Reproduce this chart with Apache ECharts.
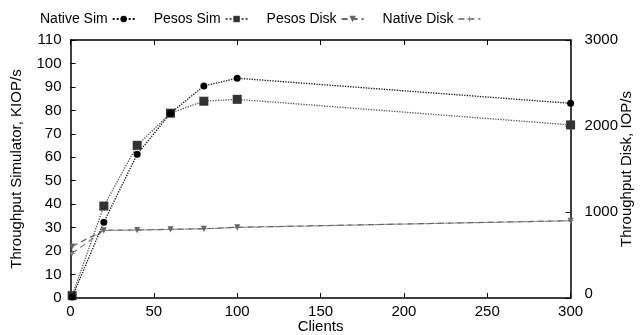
<!DOCTYPE html>
<html>
<head>
<meta charset="utf-8">
<script src="https://cdn.jsdelivr.net/npm/echarts@6/dist/echarts.min.js"></script>
<style>html,body{margin:0;padding:0;background:#fff}#c{width:642px;height:335px}</style>
</head>
<body>
<div id="c"></div>
<script>
const clients = [1, 20, 40, 60, 80, 100, 300];
const nativeSim = [0.4, 32.3, 61.3, 78.8, 90.4, 93.7, 83.0];
const pesosSim = [1.0, 39.2, 65.1, 78.8, 83.9, 84.7, 73.8];
const pesosDisk = [600, 787, 791, 799, 806, 822, 899];
const nativeDisk = [520, 785, 790, 798, 805, 821, 898];
const leftTicks = {min: 0, max: 110, interval: 10};
const rightTicks = {min: 0, max: 3000, interval: 1000};
const xTicks = {min: 0, max: 300, interval: 50};

const pair = (ys) => clients.map((x, i) => [x, ys[i]]);
const font = 'Liberation Sans, Arial, sans-serif';
const txt = {fontFamily: font, fontSize: 15, color: '#000'};
const line = {show: true, onZero: false, lineStyle: {color: '#000', width: 1.5}};
const tick = {inside: true, length: 5, lineStyle: {color: '#000'}};

const chart = echarts.init(document.getElementById('c'));
chart.setOption({
  animation: false,
  textStyle: {fontFamily: font},
  legend: {
    top: 7, left: 35, align: 'right', itemGap: 18, itemWidth: 22, itemHeight: 8,
    textStyle: {fontFamily: font, fontSize: 14, color: '#000'},
    data: ['Native Sim', 'Pesos Sim', 'Pesos Disk', 'Native Disk']
  },
  grid: {left: 70.5, right: 71.4, top: 40, bottom: 37, outerBoundsMode: 'none', containLabel: false},
  xAxis: [{
    type: 'value', min: xTicks.min, max: xTicks.max, interval: xTicks.interval,
    name: 'Clients', nameLocation: 'middle', nameGap: 21, nameMoveOverlap: false, nameTextStyle: txt,
    axisLine: line, axisTick: tick,
    axisLabel: Object.assign({margin: 6}, txt),
    splitLine: {show: false}
  }, {
    type: 'value', position: 'top', min: xTicks.min, max: xTicks.max, interval: xTicks.interval,
    axisLine: line, axisTick: tick,
    axisLabel: {show: false}, splitLine: {show: false}
  }],
  yAxis: [{
    type: 'value', position: 'left', min: leftTicks.min, max: leftTicks.max, interval: leftTicks.interval,
    name: 'Throughput Simulator, KIOP/s', nameLocation: 'middle', nameGap: 46, nameRotate: 90,
    nameMoveOverlap: false, nameTextStyle: txt,
    axisLine: line, axisTick: tick,
    axisLabel: Object.assign({margin: 9}, txt),
    splitLine: {show: false}
  }, {
    type: 'value', position: 'right', min: rightTicks.min, max: rightTicks.max, interval: rightTicks.interval,
    name: 'Throughput Disk, IOP/s', nameLocation: 'middle', nameGap: 49, nameRotate: 90,
    nameMoveOverlap: false, nameTextStyle: txt,
    axisLine: line, axisTick: tick,
    axisLabel: Object.assign({
      margin: 14,
      formatter: v => v === 0 ? '{z|0}' : String(v),
      rich: {z: {fontFamily: font, fontSize: 15, color: '#000', padding: [0, 0, 8, 0]}}
    }, txt),
    splitLine: {show: false}
  }],
  series: [{
    name: 'Native Sim', type: 'line', xAxisIndex: 0, yAxisIndex: 0, data: pair(nativeSim),
    clip: false, symbol: 'circle', symbolSize: 7,
    itemStyle: {color: '#000'}, lineStyle: {color: '#111', type: 'dotted', width: 1.3}, z: 4
  }, {
    name: 'Pesos Sim', type: 'line', xAxisIndex: 0, yAxisIndex: 0, data: pair(pesosSim),
    clip: false, symbol: 'rect', symbolSize: 9,
    itemStyle: {color: '#333'}, lineStyle: {color: '#555', type: 'dotted', width: 1.3}, z: 3
  }, {
    name: 'Pesos Disk', type: 'line', xAxisIndex: 0, yAxisIndex: 1, data: pair(pesosDisk),
    clip: false, symbol: 'triangle', symbolRotate: 180, symbolSize: 6,
    itemStyle: {color: '#666'}, lineStyle: {color: '#666', type: [6, 4], width: 1.2}, z: 2
  }, {
    name: 'Native Disk', type: 'line', xAxisIndex: 0, yAxisIndex: 1, data: pair(nativeDisk),
    clip: false, symbol: 'path://M0,-1L0.25,-0.25L1,0L0.25,0.25L0,1L-0.25,0.25L-1,0L-0.25,-0.25Z', symbolSize: 7,
    itemStyle: {color: '#888'}, lineStyle: {color: '#888', type: [6, 4], width: 1.2}, z: 1
  }]
});
</script>
</body>
</html>
